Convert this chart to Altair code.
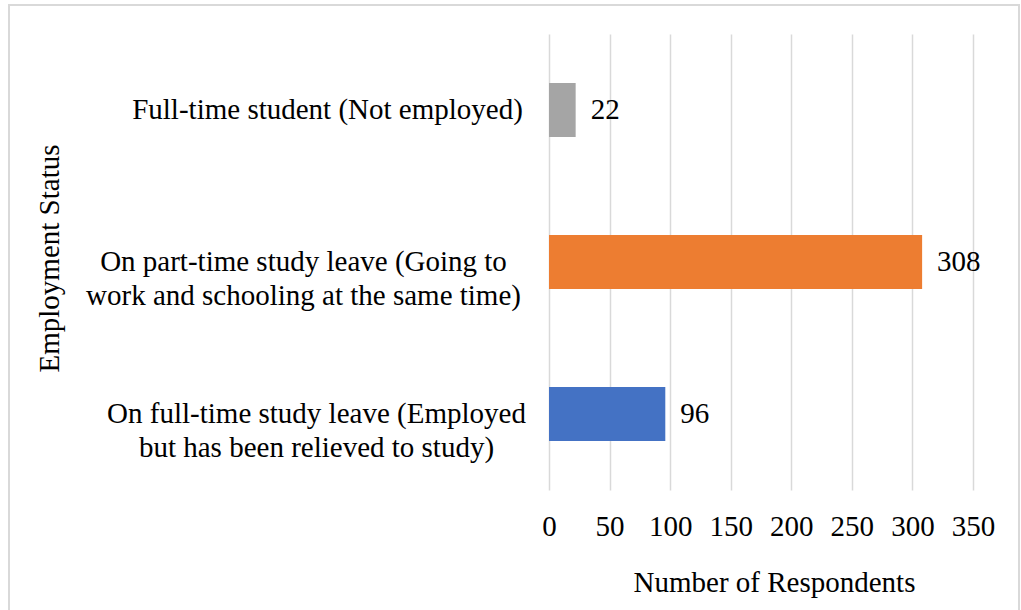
import json
import altair as alt
import pandas as pd

categories = [
    "Full-time student (Not employed)",
    "On part-time study leave (Going to work and schooling at the same time)",
    "On full-time study leave (Employed but has been relieved to study)",
]
label_lines = [
    ["Full-time student (Not employed)"],
    ["On part-time study leave (Going to", "work and schooling at the same time)"],
    ["On full-time study leave (Employed", "but has been relieved to study)"],
]
values = [22, 308, 96]
colors = ["#A5A5A5", "#ED7D31", "#4472C4"]
x_ticks = [0, 50, 100, 150, 200, 250, 300, 350]
label_pad = [222, 246, 233]

FONT = "'Liberation Serif', 'Times New Roman', 'DejaVu Serif', serif"
FS = 29

df = pd.DataFrame({"status": categories, "count": values})

label_expr = ""
pad_expr = ""
for i, c in enumerate(categories[:-1]):
    label_expr += f"datum.value == {json.dumps(c)} ? {json.dumps(label_lines[i])} : "
    pad_expr += f"datum.value == {json.dumps(c)} ? {label_pad[i]} : "
label_expr += json.dumps(label_lines[-1])
pad_expr += str(label_pad[-1])

base = alt.Chart(df)

y_enc = alt.Y(
    "status:N",
    sort=categories,
    scale=alt.Scale(paddingInner=0.645, paddingOuter=0.3225),
    axis=alt.Axis(
        title="Employment Status",
        titleFont=FONT,
        titleFontSize=FS,
        titleFontWeight="normal",
        titleColor="#000000",
        titleAngle=-90,
        titleX=-500,
        titleY=224,
        titleAlign="center",
        titleBaseline="middle",
        labelFont=FONT,
        labelFontSize=FS,
        labelColor="#000000",
        labelAlign="center",
        labelBaseline="middle",
        labelLineHeight=34,
        labelExpr=label_expr,
        labelPadding=alt.ExprRef(pad_expr),
        labelLimit=1000,
        ticks=False,
        tickSize=0,
        domain=False,
        grid=False,
    ),
)

x_enc = alt.X(
    "count:Q",
    scale=alt.Scale(domain=[0, 350], nice=False),
    axis=alt.Axis(
        values=x_ticks,
        title="Number of Respondents",
        titleFont=FONT,
        titleFontSize=FS,
        titleFontWeight="normal",
        titleColor="#000000",
        titleX=225,
        titleY=92,
        titleAlign="center",
        titleBaseline="middle",
        labelFont=FONT,
        labelFontSize=FS,
        labelColor="#000000",
        labelPadding=22,
        labelFlush=False,
        ticks=False,
        domain=False,
        grid=True,
        gridColor="#D9D9D9",
        gridWidth=1.5,
    ),
)

frame = alt.Chart(alt.Data(values=[{"a": 1}])).mark_rect(
    fill=None, stroke="#D9D9D9", strokeWidth=2
).encode(
    x=alt.value(-540),
    x2=alt.value(470),
    y=alt.value(-29),
    y2=alt.value(600),
)

bars = base.mark_bar().encode(
    y=y_enc,
    x=x_enc,
    color=alt.Color(
        "status:N",
        scale=alt.Scale(domain=categories, range=colors),
        legend=None,
    ),
)

text = base.mark_text(
    align="left", baseline="middle", dx=15, font=FONT, fontSize=FS, color="#000000"
).encode(
    y=alt.Y("status:N", sort=categories),
    x=alt.X("count:Q"),
    text=alt.Text("count:Q"),
)

chart = (
    alt.layer(frame, bars, text)
    .properties(
        width=424,
        height=456,
        autosize=alt.AutoSizeParams(type="none"),
        padding={"left": 549, "top": 34, "right": 48, "bottom": 120},
        background="#FFFFFF",
    )
    .configure_view(strokeWidth=0)
)

chart.save("out.html", embed_options={"renderer": "svg", "actions": False})
